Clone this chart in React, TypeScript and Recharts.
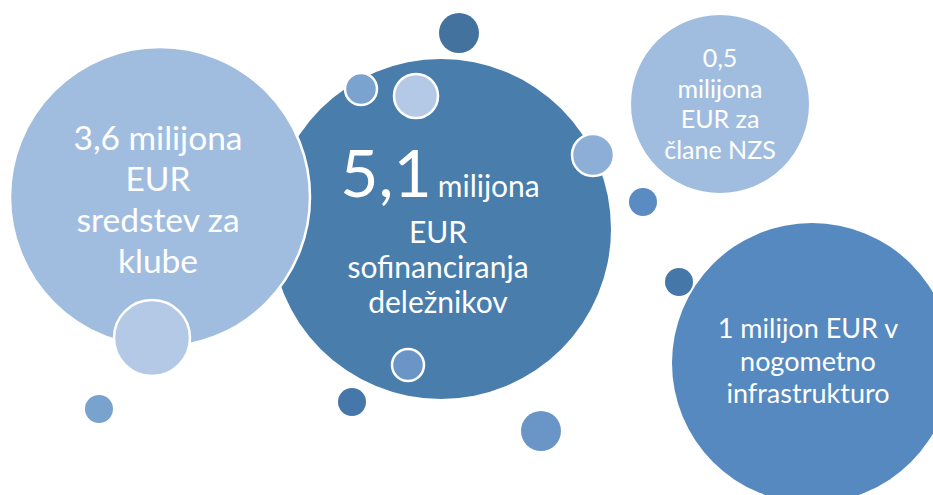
import React from "react";
import { ScatterChart, Scatter, XAxis, YAxis, ZAxis } from "recharts";

// bubble centres and radii, drawing order (back to front)
const bubbleX = [441, 160, 720, 812, 459, 361, 416, 593, 643, 679, 152, 99, 352, 408, 541];
const bubbleY = [229, 197, 104, 363, 33, 89, 96, 155, 202, 282, 338, 409, 402, 365, 431];
const bubbleR = [170, 150, 89, 140, 20, 16, 22, 21, 14, 14, 38, 14, 14, 16, 20];

// text inside the four large bubbles (index into bubbles above)
const labelCentral = ["EUR", "sofinanciranja", "deležnikov"];
const labelLeft = ["3,6 milijona", "EUR", "sredstev za", "klube"];
const labelTopRight = ["0,5", "milijona", "EUR za", "člane NZS"];
const labelBottomRight = ["1 milijon EUR v", "nogometno", "infrastrukturo"];
const headlineBig = "5,1";
const headlineSmall = "milijona";

const FILLS = [
  "#497dac", "#a0bddf", "#a0bddf", "#5589bf", "#44729f",
  "#7ba3d0", "#b3c9e6", "#8daed6", "#5a8bc2", "#4677a9",
  "#b3c9e6", "#79a2cf", "#4677ab", "#6a96c7", "#6a96c7",
];
const WHITE_RING = new Set([1, 5, 6, 7, 10, 13]);

const FONT = "Lato, 'Open Sans', sans-serif";

const data = bubbleX.map((x, i) => ({ idx: i, x, y: bubbleY[i], r: bubbleR[i] }));

const textLines = (lines: string[], cx: number, y0: number, lh: number, size: number) =>
  lines.map((t, i) => (
    <text key={t} x={cx} y={y0 + i * lh} textAnchor="middle" fill="#fff" fontSize={size} fontFamily={FONT}>
      {t}
    </text>
  ));

const Bubble = (props: any) => {
  const { cx, cy, width, payload } = props;
  const r = width / 2;
  const i = payload.idx;
  const ring = WHITE_RING.has(i);
  return (
    <g>
      <circle cx={cx} cy={cy} r={r} fill={FILLS[i]} stroke={ring ? "#fff" : "none"} strokeWidth={ring ? 2.5 : 0} />
      {i === 0 && (
        <g>
          <text x={cx - 1} y={cy - 32} textAnchor="middle" fill="#fff" fontFamily={FONT}>
            <tspan fontSize={66}>{headlineBig}</tspan>
            <tspan fontSize={30} dx={6}>{headlineSmall}</tspan>
          </text>
          {textLines(labelCentral, cx - 3, cy + 14, 35, 30)}
        </g>
      )}
      {i === 1 && textLines(labelLeft, cx - 2, cy - 47, 41, 33.5)}
      {i === 2 && textLines(labelTopRight, cx, cy - 37, 30.5, 25)}
      {i === 3 && textLines(labelBottomRight, cx - 4, cy - 25, 32.5, 27)}
    </g>
  );
};

export default function App() {
  return (
    <div style={{ position: "absolute", left: 0, top: 0, width: 933, height: 495, background: "#fff" }}>
      <ScatterChart width={933} height={495} margin={{ top: 0, right: 0, bottom: 0, left: 0 }}>
        <XAxis type="number" dataKey="x" domain={[0, 933]} hide />
        <YAxis type="number" dataKey="y" domain={[0, 495]} reversed hide />
        <ZAxis type="number" dataKey={(d: any) => d.r * d.r} domain={[0, 40000]} range={[0, 40000 * Math.PI]} />
        <Scatter data={data} shape={Bubble} isAnimationActive={false} />
      </ScatterChart>
    </div>
  );
}
